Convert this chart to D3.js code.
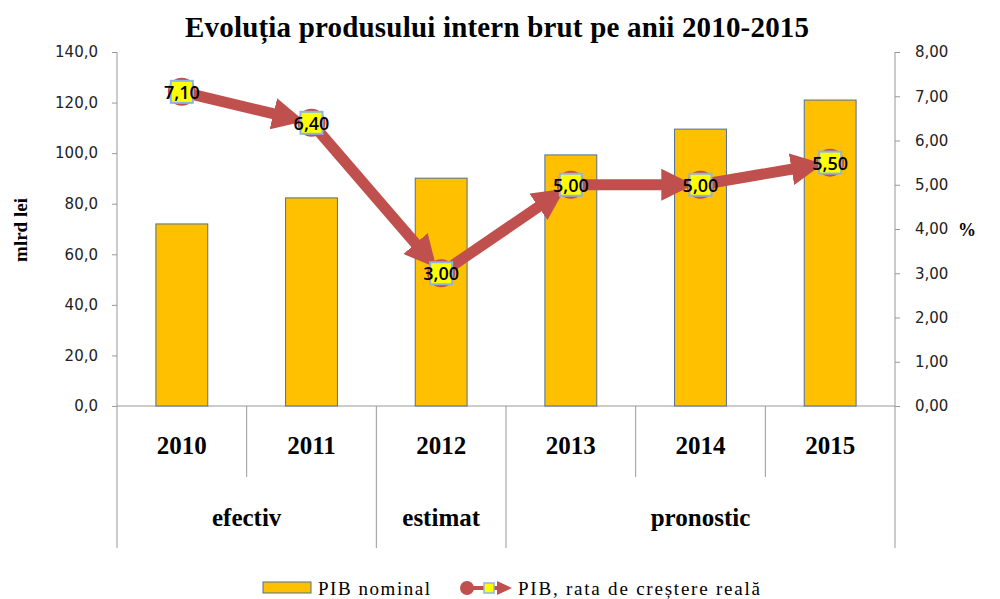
<!DOCTYPE html>
<html>
<head>
<meta charset="utf-8">
<script src="https://cdn.jsdelivr.net/npm/d3@7"></script>
<style>
  body { margin: 0; background: #fff; }
  svg { display: block; }
</style>
</head>
<body>
<div id="chart"></div>
<script>
const years = ['2010', '2011', '2012', '2013', '2014', '2015'];
const pibNominal = [72.0, 82.3, 90.1, 99.3, 109.5, 121.0];
const rataCrestere = [7.10, 6.40, 3.00, 5.00, 5.00, 5.50];
const groups = [
  { label: 'efectiv', from: 0, to: 1 },
  { label: 'estimat', from: 2, to: 2 },
  { label: 'pronostic', from: 3, to: 5 }
];
const leftTicks = [0, 20, 40, 60, 80, 100, 120, 140];
const rightTicks = [0, 1, 2, 3, 4, 5, 6, 7, 8];

const width = 1000, height = 599;
const plot = { left: 117, right: 895, top: 52, bottom: 406 };
const catBottom = 548, yearBottom = 477;
const red = '#C0504D';

const svg = d3.select('#chart')
  .append('svg')
  .attr('width', width)
  .attr('height', height);

const x = d3.scaleBand()
  .domain(years)
  .range([plot.left, plot.right]);

const yLeft = d3.scaleLinear()
  .domain([0, 140])
  .range([plot.bottom, plot.top]);

const yRight = d3.scaleLinear()
  .domain([0, 8])
  .range([plot.bottom, plot.top]);

const fmt1 = v => d3.format('.1f')(v).replace('.', ',');
const fmt2 = v => d3.format('.2f')(v).replace('.', ',');

// title
svg.append('text')
  .attr('x', 497)
  .attr('y', 37)
  .attr('text-anchor', 'middle')
  .attr('textLength', 624)
  .style('font-family', '"Liberation Serif", serif')
  .style('font-weight', 'bold')
  .style('font-size', '29px')
  .text('Evoluția produsului intern brut pe anii 2010-2015');

// axes
const leftAxis = svg.append('g')
  .attr('transform', `translate(${plot.left},0)`)
  .call(d3.axisLeft(yLeft).tickValues(leftTicks).tickSize(5).tickPadding(14).tickFormat(fmt1));

const rightAxis = svg.append('g')
  .attr('transform', `translate(${plot.right},0)`)
  .call(d3.axisRight(yRight).tickValues(rightTicks).tickSize(5).tickPadding(15).tickFormat(fmt2));

[leftAxis, rightAxis].forEach(a => {
  a.select('.domain').remove();
  a.selectAll('line').attr('stroke', '#999');
  a.selectAll('text')
    .style('font-family', '"DejaVu Sans", Verdana, sans-serif')
    .style('font-size', '15px')
    .attr('fill', '#222');
});

// vertical axis lines, running down into the category area
[plot.left, plot.right].forEach(px => {
  svg.append('line')
    .attr('x1', px).attr('x2', px)
    .attr('y1', plot.top).attr('y2', catBottom)
    .attr('stroke', '#999');
});

// category axis baseline
svg.append('line')
  .attr('x1', plot.left).attr('x2', plot.right)
  .attr('y1', plot.bottom).attr('y2', plot.bottom)
  .attr('stroke', '#999');

// separators between years / groups
const groupStarts = groups.map(g => g.from);
years.forEach((yr, i) => {
  if (i === 0) return;
  const px = x(yr);
  svg.append('line')
    .attr('x1', px).attr('x2', px)
    .attr('y1', plot.bottom)
    .attr('y2', groupStarts.includes(i) ? catBottom : yearBottom)
    .attr('stroke', '#999');
});

svg.append('g')
  .selectAll('text')
  .data(years)
  .enter()
  .append('text')
  .attr('x', d => x(d) + x.bandwidth() / 2)
  .attr('y', 454)
  .attr('text-anchor', 'middle')
  .style('font-family', '"Liberation Serif", serif')
  .style('font-weight', 'bold')
  .style('font-size', '25px')
  .text(d => d);

svg.append('g')
  .selectAll('text')
  .data(groups)
  .enter()
  .append('text')
  .attr('x', d => (x(years[d.from]) + x(years[d.to]) + x.bandwidth()) / 2)
  .attr('y', 526)
  .attr('text-anchor', 'middle')
  .style('font-family', '"Liberation Serif", serif')
  .style('font-weight', 'bold')
  .style('font-size', '25px')
  .text(d => d.label);

// axis titles
svg.append('text')
  .attr('transform', 'translate(27,230) rotate(-90)')
  .attr('text-anchor', 'middle')
  .style('font-family', '"Liberation Serif", serif')
  .style('font-weight', 'bold')
  .style('font-size', '19px')
  .text('mlrd lei');

svg.append('text')
  .attr('x', 967)
  .attr('y', 236)
  .attr('text-anchor', 'middle')
  .style('font-family', '"Liberation Serif", serif')
  .style('font-weight', 'bold')
  .style('font-size', '18px')
  .text('%');

// bars
const barW = x.bandwidth() * 0.4;
svg.append('g')
  .selectAll('rect')
  .data(pibNominal)
  .enter()
  .append('rect')
  .attr('x', (d, i) => x(years[i]) + (x.bandwidth() - barW) / 2)
  .attr('y', d => yLeft(d))
  .attr('width', barW)
  .attr('height', d => plot.bottom - yLeft(d))
  .attr('fill', '#FFC000')
  .attr('stroke', '#4F6E9A')
  .attr('stroke-width', 1);

// arrow marker
const defs = svg.append('defs');
defs.append('marker')
  .attr('id', 'arrow')
  .attr('viewBox', '0 0 10 10')
  .attr('refX', 6)
  .attr('refY', 5)
  .attr('markerUnits', 'userSpaceOnUse')
  .attr('markerWidth', 32)
  .attr('markerHeight', 32)
  .attr('orient', 'auto')
  .append('path')
  .attr('d', 'M0,0 L10,5 L0,10 Z')
  .attr('fill', red);

// line segments with arrowheads
const pts = rataCrestere.map((v, i) => [x(years[i]) + x.bandwidth() / 2, yRight(v)]);
const shorten = (d, k) => {
  const dx = d[1][0] - d[0][0], dy = d[1][1] - d[0][1];
  const len = Math.hypot(dx, dy);
  return [d[1][0] - dx / len * 20, d[1][1] - dy / len * 20][k];
};
svg.append('g')
  .selectAll('line')
  .data(d3.pairs(pts))
  .enter()
  .append('line')
  .attr('x1', d => d[0][0])
  .attr('y1', d => d[0][1])
  .attr('x2', d => shorten(d, 0))
  .attr('y2', d => shorten(d, 1))
  .attr('stroke', red)
  .attr('stroke-width', 11)
  .attr('marker-end', 'url(#arrow)');

// point markers
const mk = svg.append('g')
  .selectAll('g')
  .data(pts)
  .enter()
  .append('g')
  .attr('transform', d => `translate(${d[0]},${d[1]})`);

mk.append('circle')
  .attr('r', 14)
  .attr('fill', red);

mk.append('rect')
  .attr('x', -11).attr('y', -11)
  .attr('width', 22).attr('height', 22)
  .attr('fill', '#FFFF00')
  .attr('stroke', '#8EB4E3')
  .attr('stroke-width', 2);

mk.append('text')
  .attr('y', 7)
  .attr('text-anchor', 'middle')
  .style('font-family', '"Open Sans", sans-serif')
  .style('font-weight', '600')
  .style('font-size', '18px')
  .attr('fill', '#000')
  .text((d, i) => fmt2(rataCrestere[i]));

// legend
const lg = svg.append('g');
lg.append('rect')
  .attr('x', 263).attr('y', 582)
  .attr('width', 48).attr('height', 11)
  .attr('fill', '#FFC000')
  .attr('stroke', '#4F6E9A');
lg.append('text')
  .attr('x', 318).attr('y', 595)
  .attr('textLength', 112)
  .style('font-family', '"Liberation Serif", serif')
  .style('font-size', '19px')
  .text('PIB nominal');

lg.append('line')
  .attr('x1', 467).attr('x2', 497)
  .attr('y1', 588).attr('y2', 588)
  .attr('stroke', red)
  .attr('stroke-width', 4);
lg.append('path')
  .attr('d', 'M497,581 L512,588 L497,595 Z')
  .attr('fill', red);
lg.append('circle')
  .attr('cx', 467).attr('cy', 588)
  .attr('r', 7)
  .attr('fill', red);
lg.append('rect')
  .attr('x', 484).attr('y', 583)
  .attr('width', 10).attr('height', 10)
  .attr('fill', '#FFFF00')
  .attr('stroke', '#8EB4E3')
  .attr('stroke-width', 1.5);
lg.append('text')
  .attr('x', 518).attr('y', 595)
  .attr('textLength', 242)
  .style('font-family', '"Liberation Serif", serif')
  .style('font-size', '19px')
  .text('PIB, rata de creștere reală');
</script>
</body>
</html>
